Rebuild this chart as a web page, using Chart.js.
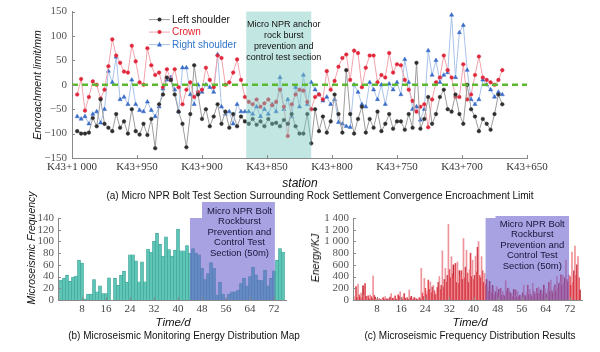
<!DOCTYPE html>
<html>
<head>
<meta charset="utf-8">
<script src="https://cdn.jsdelivr.net/npm/chart.js@4.4.0/dist/chart.umd.min.js"></script>
<style>
  body { margin: 0; background: #fff; }
  #wrap { position: relative; width: 600px; height: 352px; overflow: hidden; font-family: "Liberation Sans", Arial, sans-serif; color: #111; }
  canvas { position: absolute; }
  .lbl { position: absolute; white-space: nowrap; transform: translate(-50%, -50%); }
  .cap { font-size: 10px; }
  .it { font-style: italic; }
  .rot { transform: translate(-50%, -50%) rotate(-90deg); }
</style>
</head>
<body>
<div id="wrap">
  <canvas id="chartA" width="600" height="190" style="left:0px;top:0px"></canvas>
  <canvas id="chartB" width="300" height="122" style="left:0px;top:200px"></canvas>
  <canvas id="chartC" width="300" height="122" style="left:300px;top:200px"></canvas>

  <div class="lbl it rot" style="left:37px;top:85px;font-size:10.5px">Encroachment limit/mm</div>
  <div class="lbl it" style="left:300px;top:183px;font-size:12px">station</div>
  <div class="lbl cap" style="left:320px;top:195px">(a) Micro NPR Bolt Test Section Surrounding Rock Settlement Convergence Encroachment Limit</div>

  <div class="lbl it rot" style="left:31px;top:248px;font-size:10.5px">Microseismic Frequency</div>
  <div class="lbl it" style="left:173px;top:322px;font-size:11.5px">Time/d</div>
  <div class="lbl cap" style="left:184px;top:335px">(b) Microseismic Monitoring Energy Distribution Map</div>

  <div class="lbl it rot" style="left:315px;top:258px;font-size:10.5px">Energy/KJ</div>
  <div class="lbl it" style="left:470px;top:322px;font-size:11.5px">Time/d</div>
  <div class="lbl cap" style="left:470px;top:335px">(c) Microseismic Frequency Distribution Results</div>
</div>

<script>
// ---- (a) encroachment limit by station (K43+xxx) ----
const stations = [
  996, 993, 990, 987, 984, 981, 978, 975, 972, 969,
  966, 963, 960, 957, 954, 951, 948, 945, 942, 939,
  936, 933, 930, 927, 924, 921, 918, 915, 912, 909,
  906, 903, 900, 897, 894, 891, 888, 885, 882, 879,
  876, 873, 870, 867, 864, 861, 858, 855, 852, 849,
  846, 843, 840, 837, 834, 831, 828, 825, 822, 819,
  816, 813, 810, 807, 804, 801, 798, 795, 792, 789,
  786, 783, 780, 777, 774, 771, 768, 765, 762, 759,
  756, 753, 750, 747, 744, 741, 738, 735, 732, 729,
  726, 723, 720, 717, 714, 711, 708, 705, 702, 699,
  696, 693, 690, 687, 684, 681, 678, 675, 672, 669
];
const leftShoulder = [
  -95, -100, -100, -98, -68, -85, -30, -80, -88, -95,
  -60, -88, -75, -100, -50, -95, -102, -80, -103, -70,
  -130, -40, -20, 15, 10, -20, -55, -80, -128, -60,
  40, -20, -70, -50, -85, -65, -40, -80, -55, -88,
  -60, -85, -65, -75, -80, -70, -82, -75, -85, -70,
  -80, -78, -85, -72, -80, -60, -85, -100, -100, -60,
  -120, -50, -95, -65, -98, -75, -20, -60, -98, 30,
  -60, -100, -70, -45, -98, -70, -88, -55, -95, -80,
  -60, -90, -75, -75, -92, -60, -88, 45, -90, -70,
  -25, -80, -60, -25, -10, -50, -55, -20, -60, -80,
  0, -50, -65, -95, -70, -80, -92, -60, -20, -40
];
const crown = [
  -20, 12, -53, -25, 7, 0, -28, -10, 38, 93,
  60, 45, 27, 25, 80, 48, 5, 0, 75, 40,
  20, 25, -5, 32, 10, 32, -5, -40, -10, 5,
  -25, -15, -10, 35, 10, -5, 60, 55, 0, 5,
  25, 52, 10, -25, -35, -40, -30, -45, -38, -30,
  -42, -35, -10, -45, -105, -40, -20, -10, -12, -35,
  -50, -25, -20, -30, 28, -10, 8, 37, 55, 62,
  10, 70, 65, -5, 35, 60, 60, 5, 20, 15,
  65, 25, 42, 40, 10, -10, -33, -55, -45, -40,
  -87, -30, 5, 15, 60, 30, 15, -25, -25, 42,
  -30, -20, 20, 58, 15, 10, 5, 0, 10, 30
];
const rightShoulder = [
  -65, -70, -65, -80, -60, -55, -78, -50, 28, 5,
  57, -30, -25, -40, 10, -40, -52, -55, -35, -52,
  -65, -45, -8, 10, 15, -10, -55, 35, 35, -20,
  -40, 0, -15, 0, -5, -15, 62, -45, -60, -55,
  -80, -40, -55, -55, -55, -60, -45, -65, -50, -60,
  -40, -55, 15, -50, -30, -65, -5, -45, 20, -40,
  5, -10, -20, -33, -25, -40, -30, -77, -80, -85,
  -87, 0, -15, -40, -45, 5, -10, -30, 0, -40,
  2, -10, 5, -20, 52, 5, -50, -45, -72, -50,
  70, 20, 50, 5, 20, 25, 143, 15, 107, 122,
  30, -30, -40, -30, 10, 0, -10, -25, -15, -20
];
const stationTicks = [1000, 950, 900, 850, 800, 750, 700, 650];
const testSection = [866, 816];

// ---- (b) microseismic frequency per day ----
const days = [
  1, 2, 3, 4, 5, 6, 7, 8, 9, 10, 11, 12, 13, 14, 15, 16, 17, 18, 19, 20,
  21, 22, 23, 24, 25, 26, 27, 28, 29, 30, 31, 32, 33, 34, 35, 36, 37, 38, 39, 40,
  41, 42, 43, 44, 45, 46, 47, 48, 49, 50, 51, 52, 53, 54, 55, 56, 57, 58, 59, 60,
  61, 62, 63, 64, 65, 66, 67, 68, 69, 70, 71, 72, 73, 74, 75
];
const frequency = [
  34, 37, 42, 32, 39, 41, 68, 63, 2, 10,
  10, 35, 14, 24, 11, 11, 38, 0, 37, 25,
  42, 49, 30, 77, 77, 67, 31, 65, 31, 87,
  82, 100, 114, 95, 75, 108, 86, 75, 85, 121,
  84, 84, 93, 80, 88, 80, 77, 54, 35, 45,
  64, 54, 9, 30, 10, 2, 10, 14, 14, 17,
  28, 37, 24, 40, 56, 43, 34, 33, 51, 24,
  37, 50, 68, 88, 82
];
const freqTicks = [0, 20, 40, 60, 80, 100, 120, 140];

// ---- (c) energy, three readings per day ----
const energyA = [
  60, 270, 120, 80, 40, 90, 410, 20, 30, 15,
  60, 30, 110, 40, 20, 140, 60, 20, 170, 20,
  30, 10, 540, 370, 150, 310, 250, 120, 400, 840,
  540, 1290, 740, 380, 650, 420, 1050, 850, 520, 680,
  750, 1000, 740, 455, 230, 180, 170, 230, 120, 150,
  330, 200, 110, 90, 140, 85, 250, 120, 180, 285,
  130, 215, 150, 200, 180, 340, 220, 400, 310, 420,
  680, 430, 820, 920, 740
];
const energyB = [
  230, 90, 30, 280, 70, 60, 80, 10, 10, 40,
  20, 10, 30, 70, 90, 40, 110, 40, 30, 10,
  20, 40, 120, 200, 340, 120, 160, 215, 180, 220,
  300, 520, 450, 625, 280, 500, 380, 460, 800, 350,
  480, 420, 500, 260, 150, 120, 90, 110, 200, 90,
  150, 140, 60, 170, 60, 40, 80, 255, 100, 150,
  200, 120, 90, 120, 300, 160, 260, 200, 430, 300,
  350, 400, 300, 420, 380
];
const energyC = [
  40, 50, 240, 60, 20, 30, 50, 5, 0, 10,
  10, 50, 20, 10, 60, 20, 30, 10, 60, 40,
  10, 20, 60, 90, 180, 220, 90, 300, 250, 350,
  420, 380, 600, 300, 500, 350, 560, 300, 400, 420,
  900, 380, 300, 350, 320, 250, 140, 180, 80, 60,
  200, 110, 180, 50, 80, 120, 60, 90, 60, 90,
  110, 170, 255, 80, 140, 120, 150, 280, 250, 380,
  300, 250, 500, 600, 170
];
const energyTicks = [0, 200, 400, 600, 800, 1000, 1200, 1400];
const dayTicks = [8, 16, 24, 32, 40, 48, 56, 64, 72];

const sansFont = '"Liberation Sans", Arial, sans-serif';
const serifFont = '"Liberation Serif", "Times New Roman", serif';

Chart.defaults.font.family = serifFont;
Chart.defaults.font.size = 11;

function drawLines(ctx, lines, cx, y0, lh, size, color) {
  ctx.save();
  ctx.font = size + 'px ' + sansFont;
  ctx.fillStyle = color;
  ctx.textAlign = 'center';
  ctx.textBaseline = 'middle';
  lines.forEach((t, i) => ctx.fillText(t, cx, y0 + i * lh));
  ctx.restore();
}

// small tick marks pointing into the plot
function innerTicks(chart) {
  const { ctx, chartArea, scales } = chart;
  ctx.save();
  ctx.strokeStyle = '#888';
  ctx.lineWidth = 1;
  ctx.beginPath();
  scales.x.ticks.forEach(t => {
    const px = Math.round(scales.x.getPixelForValue(t.value)) + 0.5;
    ctx.moveTo(px, chartArea.bottom);
    ctx.lineTo(px, chartArea.bottom - 3);
  });
  scales.y.ticks.forEach(t => {
    const py = Math.round(scales.y.getPixelForValue(t.value)) + 0.5;
    ctx.moveTo(chartArea.left, py);
    ctx.lineTo(chartArea.left + 3, py);
  });
  ctx.stroke();
  ctx.restore();
}

const axisBorder = { display: true, color: '#8a8a8a', width: 1 };

// ================= (a) =================
const sectionPlugin = {
  id: 'sectionA',
  afterDatasetDraw(chart, args) {
    if (args.index !== 1) return;
    const { ctx, chartArea, scales: { x } } = chart;
    const x1 = x.getPixelForValue(testSection[0]);
    const x2 = x.getPixelForValue(testSection[1]);
    ctx.save();
    ctx.fillStyle = 'rgba(120,200,190,0.45)';
    ctx.fillRect(x1, chartArea.top, x2 - x1, chartArea.bottom - chartArea.top);
    ctx.restore();
  },
  afterDraw(chart) {
    const { ctx, chartArea, scales: { x } } = chart;
    const x1 = x.getPixelForValue(testSection[0]);
    const x2 = x.getPixelForValue(testSection[1]);
    drawLines(ctx, ['Micro NPR anchor', 'rock burst', 'prevention and', 'control test section'],
      (x1 + x2) / 2 + 5, chartArea.top + 13, 11, 9, '#111');
    innerTicks(chart);

    // legend
    const items = [
      { label: 'Left shoulder', ds: chart.data.datasets[1], text: '#111' },
      { label: 'Crown', ds: chart.data.datasets[2], text: '#e8202a' },
      { label: 'Right shoulder', ds: chart.data.datasets[3], text: '#2f74c9' }
    ];
    ctx.save();
    ctx.font = '10px ' + sansFont;
    ctx.textBaseline = 'middle';
    items.forEach((it, i) => {
      const y = chartArea.top + 8 + i * 12.5;
      const lx = chartArea.left + 77;
      ctx.strokeStyle = it.ds.borderColor;
      ctx.lineWidth = 1;
      ctx.beginPath();
      ctx.moveTo(lx, y);
      ctx.lineTo(lx + 21, y);
      ctx.stroke();
      ctx.fillStyle = it.ds.pointBackgroundColor;
      ctx.beginPath();
      if (it.ds.pointStyle === 'triangle') {
        ctx.moveTo(lx + 10.5, y - 2.8);
        ctx.lineTo(lx + 13, y + 1.8);
        ctx.lineTo(lx + 8, y + 1.8);
        ctx.closePath();
      } else {
        ctx.arc(lx + 10.5, y, 2, 0, Math.PI * 2);
      }
      ctx.fill();
      ctx.fillStyle = it.text;
      ctx.fillText(it.label, lx + 23, y + 0.5);
    });
    ctx.restore();
  }
};

function series(vals) {
  return stations.map((s, i) => ({ x: s, y: vals[i] }));
}

new Chart(document.getElementById('chartA'), {
  type: 'line',
  data: {
    datasets: [
      {
        label: 'zero',
        data: [{ x: 1000, y: 0 }, { x: 650, y: 0 }],
        borderColor: '#5cb82c',
        borderWidth: 2.5,
        borderDash: [6, 4],
        pointRadius: 0
      },
      {
        label: 'Left shoulder',
        data: series(leftShoulder),
        borderColor: '#9c9c9c',
        borderWidth: 1,
        pointStyle: 'circle',
        pointRadius: 1.8,
        pointBackgroundColor: '#2e2e2e',
        pointBorderColor: '#2e2e2e',
        pointBorderWidth: 0.5
      },
      {
        label: 'Crown',
        data: series(crown),
        borderColor: '#f1a3ac',
        borderWidth: 1,
        pointStyle: 'circle',
        pointRadius: 1.8,
        pointBackgroundColor: '#e0283c',
        pointBorderColor: '#e0283c',
        pointBorderWidth: 0.5
      },
      {
        label: 'Right shoulder',
        data: series(rightShoulder),
        borderColor: '#a9c3ea',
        borderWidth: 1,
        pointStyle: 'triangle',
        pointRadius: 2.4,
        pointBackgroundColor: '#3a6cc8',
        pointBorderColor: '#3a6cc8',
        pointBorderWidth: 0.5
      }
    ]
  },
  options: {
    responsive: false,
    animation: false,
    events: [],
    layout: { padding: { top: 10, right: 73, left: 0, bottom: 0 } },
    plugins: { legend: { display: false }, tooltip: { enabled: false } },
    scales: {
      x: {
        type: 'linear',
        reverse: true,
        min: 650,
        max: 1000,
        afterFit: s => { s.height = 32; },
        afterBuildTicks: s => { s.ticks = stationTicks.map(v => ({ value: v })); },
        ticks: {
          padding: 3,
          color: '#333',
          maxRotation: 0,
          autoSkip: false,
          callback: v => v === 1000 ? 'K43+1 000' : 'K43+' + v
        },
        grid: { display: false, drawTicks: false },
        border: axisBorder
      },
      y: {
        min: -150,
        max: 150,
        afterFit: s => { s.width = 72; },
        ticks: {
          stepSize: 50,
          padding: 5,
          color: '#555',
          autoSkip: false,
          callback: v => String(v).replace('-', '\u2212')
        },
        grid: { display: false, drawTicks: false },
        border: axisBorder
      }
    }
  },
  plugins: [sectionPlugin]
});

// ================= (b) and (c) =================
function boxPlugin(id, box, stepUp, lines, textOffset) {
  return {
    id,
    afterDatasetsDraw(chart) {
      const { ctx, chartArea, scales: { x } } = chart;
      const x1 = x.getPixelForValue(box[0]);
      const xs = x.getPixelForValue(box[1]);
      const x2 = x.getPixelForValue(box[2]);
      const yb = chartArea.bottom, yt = chartArea.top;
      ctx.save();
      ctx.fillStyle = 'rgba(105,95,205,0.58)';
      ctx.beginPath();
      ctx.moveTo(x1, yb);
      ctx.lineTo(x1, yt);
      ctx.lineTo(xs, yt);
      ctx.lineTo(xs, yt - stepUp);
      ctx.lineTo(x2, yt - stepUp);
      ctx.lineTo(x2, yb);
      ctx.closePath();
      ctx.fill();
      ctx.restore();
      drawLines(ctx, lines, (xs + x2) / 2 + textOffset[0], yt + textOffset[1], 10.5, 9.5, '#16163a');
    },
    afterDraw(chart) { innerTicks(chart); }
  };
}

const boxLines = ['Micro NPR Bolt', 'Rockburst', 'Prevention and', 'Control Test', 'Section (50m)'];

function dayScale() {
  return {
    type: 'linear',
    min: 0,
    max: 76,
    offset: false,
    afterFit: s => { s.height = 22; },
    afterBuildTicks: s => { s.ticks = dayTicks.map(v => ({ value: v })); },
    ticks: { padding: 3, color: '#444', maxRotation: 0, autoSkip: false },
    grid: { display: false, drawTicks: false, offset: false },
    border: axisBorder
  };
}

function valueScale(max, width, tickValues, fmt) {
  return {
    min: 0,
    max,
    afterFit: s => { s.width = width; },
    afterBuildTicks: s => { s.ticks = tickValues.map(v => ({ value: v })); },
    ticks: { padding: 4, color: '#555', autoSkip: false, callback: fmt },
    grid: { display: false, drawTicks: false },
    border: axisBorder
  };
}

new Chart(document.getElementById('chartB'), {
  type: 'bar',
  data: {
    datasets: [{
      label: 'Microseismic frequency',
      data: days.map((d, i) => ({ x: d, y: frequency[i] })),
      backgroundColor: '#5ec6b7',
      borderColor: '#33988d',
      borderWidth: 0.5,
      barPercentage: 1,
      categoryPercentage: 1
    }]
  },
  options: {
    responsive: false,
    animation: false,
    events: [],
    layout: { padding: { top: 18, right: 14, left: 0, bottom: 0 } },
    plugins: { legend: { display: false }, tooltip: { enabled: false } },
    scales: {
      x: dayScale(),
      y: valueScale(140, 58, freqTicks, v => String(v))
    }
  },
  plugins: [boxPlugin('boxB', [44, 48, 72.3], 16, boxLines, [1, -7])]
});

function energySet(label, vals, color) {
  return {
    label,
    data: days.map((d, i) => ({ x: d, y: vals[i] })),
    backgroundColor: color,
    borderWidth: 0,
    barPercentage: 1,
    categoryPercentage: 1
  };
}

new Chart(document.getElementById('chartC'), {
  type: 'bar',
  data: {
    datasets: [
      energySet('Energy A', energyA, 'rgba(236,128,138,0.85)'),
      energySet('Energy B', energyB, 'rgba(222,52,62,0.9)'),
      energySet('Energy C', energyC, 'rgba(185,18,32,0.9)')
    ]
  },
  options: {
    responsive: false,
    animation: false,
    events: [],
    layout: { padding: { top: 18, right: 18, left: 0, bottom: 0 } },
    plugins: { legend: { display: false }, tooltip: { enabled: false } },
    scales: {
      x: dayScale(),
      y: valueScale(1400, 53, energyTicks,
        v => v >= 1000 ? Math.floor(v / 1000) + ' ' + String(v % 1000).padStart(3, '0') : String(v))
    }
  },
  plugins: [boxPlugin('boxC', [44, 47.3, 71.7], 2, boxLines, [0, 6])]
});
</script>
</body>
</html>
